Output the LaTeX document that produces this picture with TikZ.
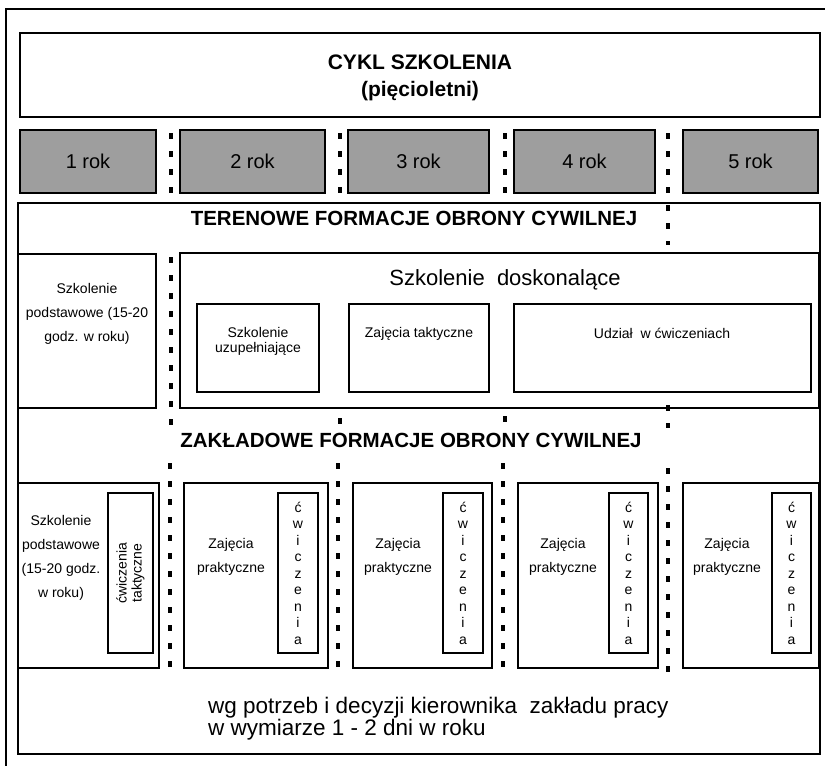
\documentclass[tikz,border=0pt]{standalone}
\usepackage{fontspec}
\setmainfont{Liberation Sans}
\usetikzlibrary{positioning}

\begin{document}
\begin{tikzpicture}[
    x=1pt, y=-1pt,
    ramka/.style={
        rectangle,
        draw=black,
        line width=2.6pt,
        anchor=north west,
        inner sep=0pt,
        outer sep=0pt,
        align=center,
    },
    cienka/.style={ramka, line width=1.4pt}, % cienkie obramowanie
    rok/.style={ramka, fill=black!38, line width=2.8pt, minimum height=63,
        font=\fontsize{20}{22}\selectfont},
    duza/.style={ramka, line width=2.2pt, minimum height=185},
    cwicz/.style={ramka, minimum height=160, font=\fontsize{14}{16.5}\selectfont},
    tytul/.style={align=center, font=\fontsize{21}{27}\selectfont\bfseries},
    naglowek/.style={font=\fontsize{20.5}{24}\selectfont\bfseries},
    opis/.style={align=center, inner sep=0pt, font=\fontsize{14}{24}\selectfont},
    linia/.style={line width=1.4pt},
    kropki/.style={line width=3.2pt, dash pattern=on 6pt off 12pt}
]
\useasboundingbox (0,0) rectangle (825,766);

% Ramka strony i pole dolne
\draw[linia] (6,770) |- (830,9);
\node[cienka, minimum width=802, minimum height=551] (pole) at (18,203) {};

% Cykl szkolenia
\node[ramka, minimum width=800, minimum height=84] (cykl) at (20,33) {};
\node[tytul] (cykltxt) at (420,78) {CYKL SZKOLENIA\\(pięcioletni)};

% Lata
\node[rok, minimum width=136] (rok1) at (20,130) {1 rok};
\node[rok, minimum width=145] (rok2) at (180,130) {2 rok};
\node[rok, minimum width=141] (rok3) at (348,130) {3 rok};
\node[rok, minimum width=141] (rok4) at (514,130) {4 rok};
\node[rok, minimum width=135] (rok5) at (683,130) {5 rok};

% Terenowe formacje
\node[naglowek] (teren) at (414,218) {TERENOWE FORMACJE OBRONY CYWILNEJ};
\node[ramka, line width=2.2pt, minimum width=138, minimum height=154] (tpodst) at (18,254) {};
\node[opis] (tpodsttxt) at (87,314) {Szkolenie\\podstawowe (15-20\\godz. w roku)};
\node[ramka, line width=2.2pt, minimum width=639, minimum height=155] (dosk) at (180,253) {};
\node[font=\fontsize{22}{24}\selectfont] (dosktxt) at (505,280) {Szkolenie\ \ doskonalące};
\node[ramka, line width=2.8pt, minimum width=122, minimum height=88] (uzup) at (197,304) {};
\node[opis, font=\fontsize{14}{15}\selectfont] (uzuptxt) at (258,341.5) {Szkolenie\\uzupełniające};
\node[ramka, line width=2.8pt, minimum width=140, minimum height=88] (takt) at (349,304) {};
\node[opis] (takttxt) at (419,334) {Zajęcia taktyczne};
\node[ramka, line width=2.8pt, minimum width=297, minimum height=88] (udzial) at (514,304) {};
\node[opis] (udzialtxt) at (662,333) {Udział\ \ w ćwiczeniach};

% Zakladowe formacje
\node[naglowek] (zaklad) at (411,440) {ZAKŁADOWE FORMACJE OBRONY CYWILNEJ};
\node[duza, minimum width=141] (zpodst) at (18,483) {};
\node[opis] (zpodsttxt) at (61,558) {Szkolenie\\podstawowe\\(15-20 godz.\\w roku)};
\node[cwicz, minimum width=45] (ztakt) at (108,493) {};
\node[opis, rotate=90, font=\fontsize{14}{15}\selectfont] (ztakttxt) at (ztakt.center) {ćwiczenia\\taktyczne};

\node[duza, minimum width=144] (zaj2) at (184,483) {};
\node[opis] (zaj2txt) at (231,557) {Zajęcia\\praktyczne};
\node[cwicz, minimum width=40] (cw2) at (278,493) {ć\\w\\i\\c\\z\\e\\n\\i\\a};

\node[duza, minimum width=139] (zaj3) at (353,483) {};
\node[opis] (zaj3txt) at (398,557) {Zajęcia\\praktyczne};
\node[cwicz, minimum width=40] (cw3) at (443,493) {ć\\w\\i\\c\\z\\e\\n\\i\\a};

\node[duza, minimum width=140] (zaj4) at (518,483) {};
\node[opis] (zaj4txt) at (563,557) {Zajęcia\\praktyczne};
\node[cwicz, minimum width=39] (cw4) at (609,493) {ć\\w\\i\\c\\z\\e\\n\\i\\a};

\node[duza, minimum width=136] (zaj5) at (683,483) {};
\node[opis] (zaj5txt) at (727,557) {Zajęcia\\praktyczne};
\node[cwicz, minimum width=39] (cw5) at (772,493) {ć\\w\\i\\c\\z\\e\\n\\i\\a};

\node[align=left, anchor=north west, inner sep=0pt, font=\fontsize{22.5}{22}\selectfont] (uwagi) at (208,697)
    {wg potrzeb i decyzji kierownika\ \ zakładu pracy\\w wymiarze 1 - 2 dni w roku};

% Linie kropkowane miedzy latami
\draw[kropki] (171,133) -- (171,200);
\draw[kropki] (340,133) -- (340,200);
\draw[kropki] (505,133) -- (505,200);
\draw[kropki] (668,133) -- (668,245);
\draw[kropki] (171,257) -- (171,425);
\draw[kropki] (340,418) -- (340,426);
\draw[kropki] (505,416) -- (505,424);
\draw[kropki] (668,405) -- (668,428);
\draw[kropki] (170,463) -- (170,673);
\draw[kropki] (338,463) -- (338,673);
\draw[kropki] (503,463) -- (503,673);
\draw[kropki] (668,468) -- (668,678);

\end{tikzpicture}
\end{document}
